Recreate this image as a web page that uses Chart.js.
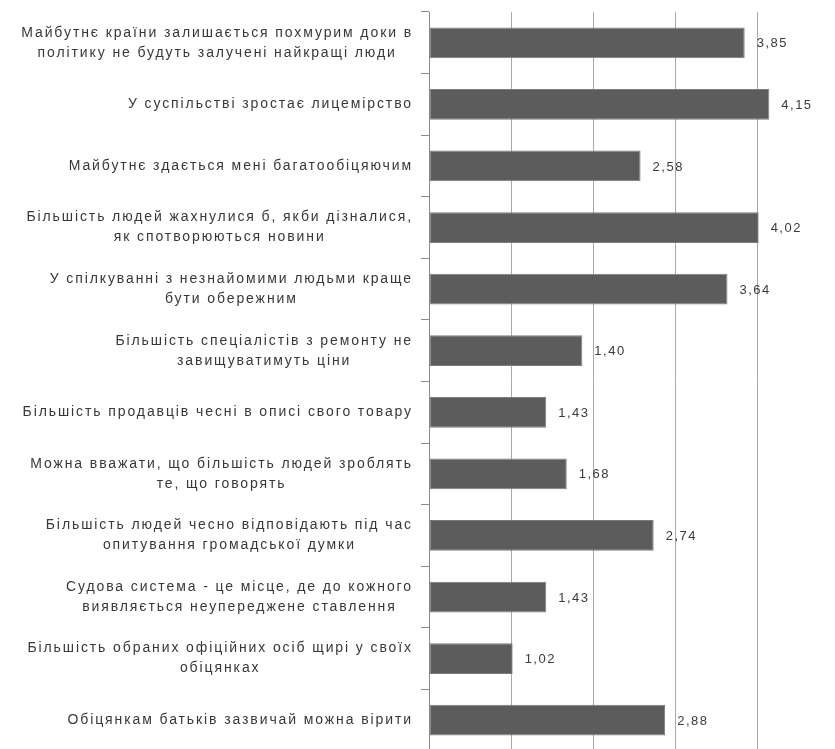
<!DOCTYPE html>
<html>
<head>
<meta charset="utf-8">
<script src="https://cdn.jsdelivr.net/npm/chart.js@4.4.0/dist/chart.umd.min.js"></script>
<style>
  html, body { margin: 0; padding: 0; background: #fff; overflow: hidden; }
  #wrap { width: 845px; height: 760px; }
</style>
</head>
<body>
<div id="wrap"><canvas id="chart" width="845" height="760"></canvas></div>
<script>
const categories = [
  ['Майбутнє країни залишається похмурим доки в', 'політику не будуть залучені найкращі люди'],
  ['У суспільстві зростає лицемірство'],
  ['Майбутнє здається мені багатообіцяючим'],
  ['Більшість людей жахнулися б, якби дізналися,', 'як спотворюються новини'],
  ['У спілкуванні з незнайомими людьми краще', 'бути обережним'],
  ['Більшість спеціалістів з ремонту не', 'завищуватимуть ціни'],
  ['Більшість продавців чесні в описі свого товару'],
  ['Можна вважати, що більшість людей зроблять', 'те, що говорять'],
  ['Більшість людей чесно відповідають під час', 'опитування громадської думки'],
  ['Судова система - це місце, де до кожного', 'виявляється неупереджене ставлення'],
  ['Більшість обраних офіційних осіб щирі у своїх', 'обіцянках'],
  ['Обіцянкам батьків зазвичай можна вірити']
];

// bar lengths
const values = [3.85, 4.15, 2.58, 4.02, 3.64, 1.87, 1.43, 1.68, 2.74, 1.43, 1.02, 2.88];

// value labels exactly as printed next to the bars
const valueLabels = ['3,85', '4,15', '2,58', '4,02', '3,64', '1,40', '1,43', '1,68', '2,74', '1,43', '1,02', '2,88'];

const xTicks = [0, 1, 2, 3, 4, 5];

const FONT = '"Liberation Sans", "DejaVu Sans", sans-serif';

// category labels: block right-aligned to the axis, lines centred inside it
const categoryLabelPlugin = {
  id: 'categoryLabels',
  afterDraw(chart) {
    const ctx = chart.ctx;
    const yScale = chart.scales.y;
    const right = chart.chartArea.left - 16;
    const lineH = 20;
    ctx.save();
    ctx.font = '14px ' + FONT;
    ctx.letterSpacing = '1.9px';
    ctx.fillStyle = '#383838';
    ctx.textAlign = 'left';
    ctx.textBaseline = 'middle';
    categories.forEach((lines, i) => {
      const y = yScale.getPixelForValue(i);
      const widths = lines.map(l => ctx.measureText(l).width);
      const maxW = Math.max(...widths);
      const cx = right - maxW / 2;
      const y0 = y - (lines.length - 1) * lineH / 2;
      lines.forEach((l, j) => ctx.fillText(l, cx - widths[j] / 2, y0 + j * lineH));
    });
    ctx.restore();
  }
};

const valueLabelPlugin = {
  id: 'valueLabels',
  afterDatasetsDraw(chart) {
    const ctx = chart.ctx;
    const meta = chart.getDatasetMeta(0);
    ctx.save();
    ctx.font = '13px ' + FONT;
    ctx.letterSpacing = '1.5px';
    ctx.fillStyle = '#3a3a3a';
    ctx.textAlign = 'left';
    ctx.textBaseline = 'middle';
    meta.data.forEach((bar, i) => {
      ctx.fillText(valueLabels[i], bar.x + 12, bar.y + 1);
    });
    ctx.restore();
  }
};

const ctx = document.getElementById('chart').getContext('2d');
new Chart(ctx, {
  type: 'bar',
  data: {
    labels: categories,
    datasets: [{
      data: values,
      backgroundColor: '#5c5c5c',
      borderColor: '#7c7c7c',
      borderWidth: 1,
      borderSkipped: false,
      barPercentage: 0.5,
      categoryPercentage: 1.0
    }]
  },
  options: {
    indexAxis: 'y',
    responsive: false,
    animation: false,
    layout: { padding: { top: 12, right: 6, left: 0, bottom: 0 } },
    plugins: {
      legend: { display: false },
      tooltip: { enabled: false }
    },
    scales: {
      x: {
        min: 0,
        max: 5,
        afterBuildTicks: (scale) => { scale.ticks = xTicks.map(v => ({ value: v })); },
        ticks: { display: false },
        grid: { color: '#a8a8a8', lineWidth: 1, drawTicks: false },
        border: { display: false },
        afterFit: (scale) => { scale.height = 9; }
      },
      y: {
        offset: true,
        ticks: { display: false },
        grid: {
          offset: true,
          drawOnChartArea: false,
          drawTicks: true,
          tickLength: 8,
          color: '#8a8a8a'
        },
        border: { display: true, color: '#8a8a8a', width: 1 },
        afterFit: (scale) => { scale.width = 429; }
      }
    }
  },
  plugins: [categoryLabelPlugin, valueLabelPlugin]
});
</script>
</body>
</html>
